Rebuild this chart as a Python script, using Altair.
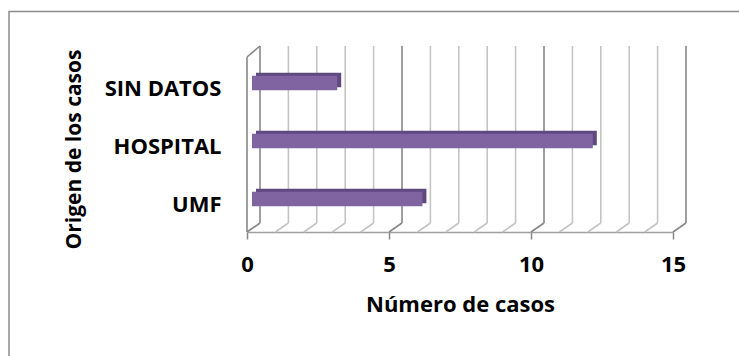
import altair as alt
import pandas as pd

# Origin of the cases and number of cases per origin
origen = ["SIN DATOS", "HOSPITAL", "UMF"]
casos = [3, 12, 6]

# Gridline positions on the back wall (one per unit) and the labelled ticks
grid_values = [0, 1, 2, 3, 4, 5, 6, 7, 8, 9, 10, 11, 12, 13, 14, 15]
tick_values = [0, 5, 10, 15]

FONT = "Open Sans"
W, H = 426, 186          # plot area (front face)
DX, DY = 13, 9           # depth offset of the back wall
MAJOR = "#878787"
MINOR = "#c4c4c4"

bars_df = pd.DataFrame({"origen": origen, "casos": casos})
grid_df = pd.DataFrame({"v": grid_values, "major": [v in tick_values for v in grid_values]})

x_scale = alt.Scale(domain=[0, 15], nice=False, zero=True)
y_scale = alt.Scale(domain=origen, range=[0, 190], paddingInner=0.75, paddingOuter=0.51)

grid_color = alt.condition(alt.datum.major, alt.value(MAJOR), alt.value(MINOR))

# Outer frame of the chart area
frame = alt.Chart(alt.Data(values=[{}])).mark_rect(
    fill="transparent", stroke="#8c8c8c", strokeWidth=1.5
).encode(
    x=alt.value(-238), x2=alt.value(700),
    y=alt.value(-34.5), y2=alt.value(400),
)

# Back wall vertical gridlines
back_grid = alt.Chart(grid_df).mark_rule(strokeWidth=1.6, xOffset=DX).encode(
    x=alt.X("v:Q", scale=x_scale),
    y=alt.value(0), y2=alt.value(H - DY),
    color=grid_color,
)

# Floor diagonals from the front axis to the back wall
floor_grid = alt.Chart(grid_df).mark_rule(strokeWidth=1.6, x2Offset=DX).encode(
    x=alt.X("v:Q", scale=x_scale), x2="v:Q",
    y=alt.value(H), y2=alt.value(H - DY),
    color=grid_color,
)

# Left side wall: front edge and top edge
wall_df = grid_df[grid_df.v == 0]
wall_front = alt.Chart(wall_df).mark_rule(strokeWidth=1.6, color=MAJOR).encode(
    x=alt.X("v:Q", scale=x_scale),
    y=alt.value(11), y2=alt.value(H),
)
wall_top = alt.Chart(wall_df).mark_rule(strokeWidth=1.6, color=MAJOR, x2Offset=DX).encode(
    x=alt.X("v:Q", scale=x_scale), x2="v:Q",
    y=alt.value(11), y2=alt.value(0),
)

# Bars: a darker copy set back in depth gives the top and side faces
bar_depth = alt.Chart(bars_df).mark_bar(
    color="#5f4a80", xOffset=9, x2Offset=9, yOffset=-3, y2Offset=-3
).encode(
    x=alt.X("casos:Q", scale=x_scale),
    x2=alt.datum(0),
    y=alt.Y("origen:N", scale=y_scale, sort=origen),
)
bar_front = alt.Chart(bars_df).mark_bar(
    color="#8064a2", xOffset=5, x2Offset=5
).encode(
    x=alt.X(
        "casos:Q", scale=x_scale,
        axis=alt.Axis(
            values=tick_values, title="Número de casos", grid=False,
            domainColor="#a0a0a0", domainWidth=1.5,
            tickColor=MAJOR, tickSize=7, tickWidth=1.5,
            labelFont=FONT, labelFontSize=22, labelFontWeight="bold", labelColor="#000",
            labelPadding=15, labelFlush=False,
            titleFont=FONT, titleFontSize=22, titleFontWeight="bold", titleColor="#000",
            titlePadding=19,
        ),
    ),
    x2=alt.datum(0),
    y=alt.Y(
        "origen:N", scale=y_scale, sort=origen,
        axis=alt.Axis(
            title="Origen de los casos", domain=False, ticks=False, grid=False,
            labelFont=FONT, labelFontSize=22, labelFontWeight="bold", labelColor="#000",
            labelPadding=26, labelOffset=6,
            titleFont=FONT, titleFontSize=21, titleFontWeight="bold", titleColor="#000",
            titleX=-173, titleY=103, titleBaseline="middle", titleAlign="center",
        ),
    ),
)

chart = alt.layer(
    frame, back_grid, floor_grid, wall_front, wall_top, bar_depth, bar_front
).properties(
    width=W, height=H,
    autosize=alt.AutoSizeParams(type="none"),
    padding={"left": 247, "top": 46, "right": 66, "bottom": 124},
    background="white",
).configure_view(stroke=None)

chart.save("out.html", embed_options={"renderer": "svg", "actions": False})
